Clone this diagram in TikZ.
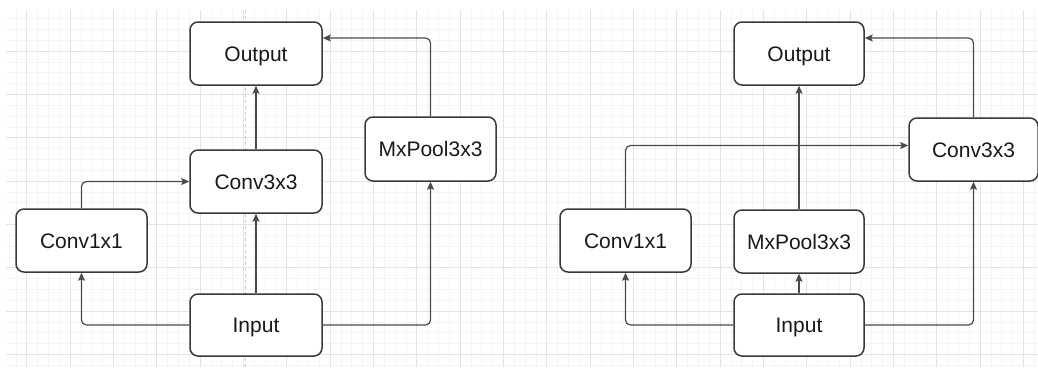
\documentclass[tikz,border=0pt]{standalone}
\usepackage{fontspec}
\setmainfont{Liberation Sans}
\usetikzlibrary{arrows.meta}
\definecolor{gridmaj}{HTML}{E4E4E4}
\definecolor{gridmin}{HTML}{F5F5F5}
\definecolor{boxline}{HTML}{3A3A3A}
\definecolor{connline}{HTML}{4A4A4A}
\definecolor{guide}{HTML}{C8C8C8}
\tikzset{
  blk/.style={draw=boxline, line width=1.5pt, rounded corners=8pt, fill=white,
    inner sep=0pt, text=black!90, text height=15pt, text depth=0pt,
    font=\fontsize{21}{25}\selectfont},
  conn/.style={draw=connline, line width=1.2pt, rounded corners=5pt,
    -{Stealth[length=8pt,width=7pt,inset=1.5pt]}},
}
\begin{document}
\begin{tikzpicture}[x=1pt,y=-1pt]
\useasboundingbox (0,0) rectangle (1038,367);
\fill[white] (0,0) rectangle (1038,367);
% grid
\begin{scope}
\clip (6,10) rectangle (1038,367);
\foreach \i in {-1,...,96} {
  \draw[gridmin, line width=0.6pt] ({26.7+10.833*(\i-2)},10) -- ++(0,357);
}
\foreach \j in {-4,...,32} {
  \draw[gridmin, line width=0.6pt] (6,{51+10.833*\j}) -- ++(1032,0);
}
\foreach \i in {0,...,23} {
  \draw[gridmaj, line width=0.9pt] ({26.7+43.333*\i},10) -- ++(0,357);
}
\foreach \j in {-1,...,8} {
  \draw[gridmaj, line width=0.9pt] (6,{51+43.333*\j}) -- ++(1032,0);
}
\end{scope}
% guide line
\coordinate (gtop) at (245,10);
\coordinate (gbot) at (245,367);
\draw[guide, line width=0.9pt, dash pattern=on 3pt off 3pt] (gtop) -- (gbot);
% left diagram
\node[blk, minimum width=132pt, minimum height=63pt] (outL) at (256,53.5) {Output};
\node[blk, minimum width=132pt, minimum height=63pt] (c3L) at (256,181.5) {Conv3x3};
\node[blk, minimum width=131pt, minimum height=63pt] (c1L) at (81.5,240.5) {Conv1x1};
\node[blk, minimum width=132pt, minimum height=62pt] (inL) at (256,325) {Input};
\node[blk, minimum width=131pt, minimum height=64pt] (mpL) at (430.5,149) {MxPool3x3};
% right diagram
\node[blk, minimum width=130pt, minimum height=63pt] (outR) at (799,53.5) {Output};
\node[blk, minimum width=131pt, minimum height=63pt] (c1R) at (625.5,240.5) {Conv1x1};
\node[blk, minimum width=130pt, minimum height=63pt] (mpR) at (799,241.5) {MxPool3x3};
\node[blk, minimum width=130pt, minimum height=62pt] (inR) at (799,325) {Input};
\node[blk, minimum width=129pt, minimum height=63pt] (c3R) at (973.5,149.5) {Conv3x3};
% left connectors
\draw[conn] (inL.north) -- (c3L.south);
\draw[conn] (c3L.north) -- (outL.south);
\draw[conn] (inL.west) -| (c1L.south);
\draw[conn] (c1L.north) |- (c3L.west);
\draw[conn] (inL.east) -| (mpL.south);
\draw[conn] (mpL.north) |- ([yshift=15.5pt]outL.east);
% right connectors
\draw[conn] (inR.north) -- (mpR.south);
\draw[conn] (mpR.north) -- (outR.south);
\draw[conn] (inR.west) -| (c1R.south);
\draw[conn] (c1R.north) |- ([yshift=4pt]c3R.west);
\draw[conn] (inR.east) -| (c3R.south);
\draw[conn] (c3R.north) |- ([yshift=15.5pt]outR.east);
\end{tikzpicture}
\end{document}
